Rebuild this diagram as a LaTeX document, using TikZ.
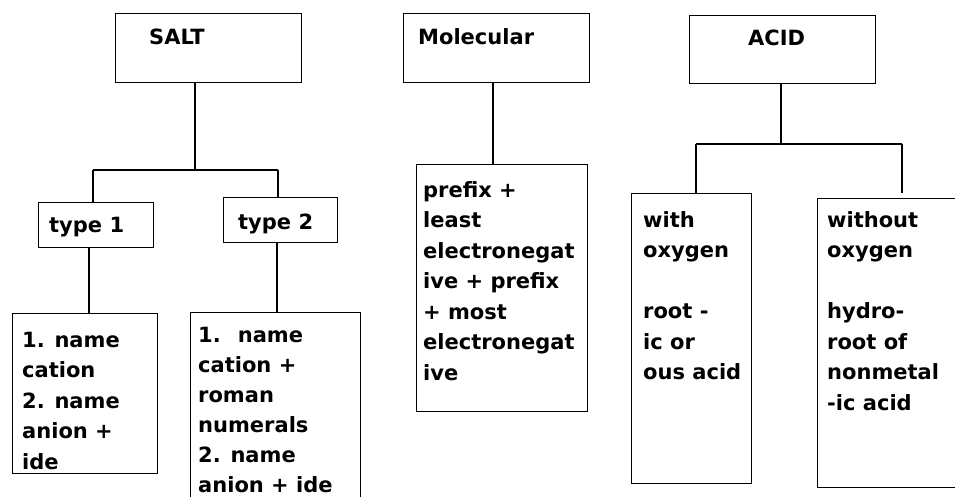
\documentclass[tikz,border=0pt]{standalone}
\usepackage{fontspec}
\setmainfont{DejaVu Sans}
\newcommand{\fs}{\rule{0pt}{17pt}}
\begin{document}
\begin{tikzpicture}[x=1pt,y=-1pt,
  box/.style={draw, line width=1.4pt, rectangle, inner sep=0pt, anchor=north west},
  conn/.style={line width=1.4pt},
  title/.style={font=\fontsize{21}{25}\selectfont\bfseries, anchor=base west, inner sep=0pt},
  txt/.style={font=\fontsize{21}{30.5}\selectfont\bfseries, align=left, anchor=north west, inner sep=0pt}]
\clip (0,0) rectangle (955,497);
\fill[white] (0,0) rectangle (955,497);
% boxes
\node[box, minimum width=186pt, minimum height=69pt] (salt) at (115,13) {};
\node[box, minimum width=186pt, minimum height=69pt] (mol) at (403,13) {};
\node[box, minimum width=186pt, minimum height=68pt] (acid) at (689,15) {};
\node[box, minimum width=115pt, minimum height=45pt] (t1) at (38,202) {};
\node[box, minimum width=114pt, minimum height=45pt] (t2) at (223,197) {};
\node[box, minimum width=145pt, minimum height=160pt] (b1) at (12,313) {};
\node[box, minimum width=170pt, minimum height=210pt] (b2) at (190,312) {};
\node[box, minimum width=171pt, minimum height=247pt] (mb) at (416,164) {};
\node[box, minimum width=120pt, minimum height=290pt] (wo) at (631,193) {};
\node[box, minimum width=160pt, minimum height=289pt] (wn) at (817,198) {};
% texts
\node[title] (saltT) at (149,45) {SALT};
\node[title] (molT) at (418,45) {Molecular};
\node[title] (acidT) at (748,46) {ACID};
\node[title] (t1T) at (49,232) {type 1};
\node[title] (t2T) at (238,229) {type 2};
\node[txt] (b1T) at (22,330) {\fs 1. name\\cation\\2. name\\anion +\\ide};
\node[txt, font=\fontsize{21}{30}\selectfont\bfseries] (b2T) at (198,325) {\fs 1.~ name\\cation +\\roman\\numerals\\2. name\\anion + ide};
\node[txt] (mbT) at (423,180) {\fs prefix +\\least\\electronegat\\ive + prefix\\+ most\\electronegat\\ive};
\node[txt] (woT) at (643,210) {\fs with\\oxygen\\[30.5pt]root -\\ic or\\ous acid};
\node[txt] (wnT) at (827,210) {\fs without\\oxygen\\[30.5pt]hydro-\\root of\\nonmetal\\-ic acid};
% connectors
\coordinate (sj) at (195,170);
\coordinate (sl) at (93,170);
\coordinate (sr) at (278,170);
\coordinate (x1) at (89,0);
\coordinate (x2) at (277,0);
\coordinate (xm) at (493,0);
\coordinate (aj) at (781,144);
\coordinate (al) at (696,144);
\coordinate (ar) at (902,144);
\draw[conn] (salt.south -| sj) -- (sj);
\draw[conn] (sl) -- (sr);
\draw[conn] (sl) -- (sl |- t1.north);
\draw[conn] (sr) -- (sr |- t2.north);
\draw[conn] (t1.south -| x1) -- (b1.north -| x1);
\draw[conn] (t2.south -| x2) -- (b2.north -| x2);
\draw[conn] (mol.south -| xm) -- (mb.north -| xm);
\draw[conn] (acid.south -| aj) -- (aj);
\draw[conn] (al) -- (ar);
\draw[conn] (al) -- (al |- wo.north);
\draw[conn, shorten >=5pt] (ar) -- (ar |- wn.north);
\end{tikzpicture}
\end{document}
